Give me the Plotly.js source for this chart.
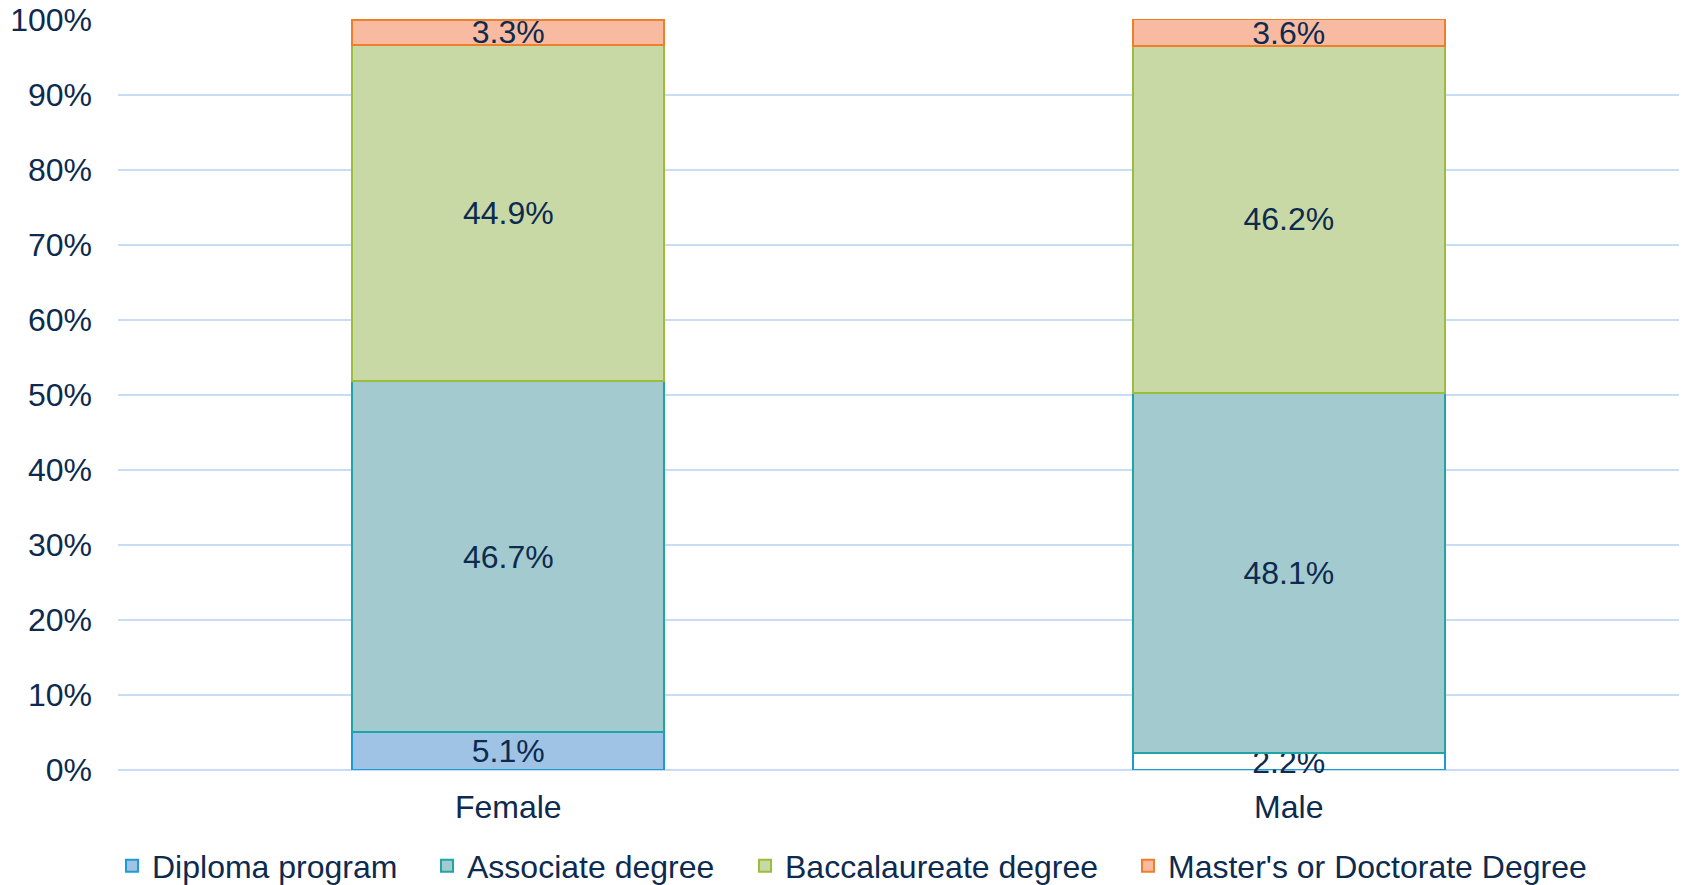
<!DOCTYPE html>
<html>
<head>
<meta charset="utf-8">
<script src="https://cdn.plot.ly/plotly-3.0.1.min.js"></script>
<style>html,body{margin:0;padding:0;background:#fff;}#chart{width:1682px;height:885px;}</style>
</head>
<body>
<div id="chart"></div>
<script>
const categories = ['Female', 'Male'];
const seriesNames = ['Diploma program', 'Associate degree', 'Baccalaureate degree', "Master's or Doctorate Degree"];
const diploma = [5.1, 2.2];
const associate = [46.7, 48.1];
const baccalaureate = [44.9, 46.2];
const masters = [3.3, 3.6];
const yTicks = [0, 10, 20, 30, 40, 50, 60, 70, 80, 90, 100];
const yTickLabels = ['0%', '10%', '20%', '30%', '40%', '50%', '60%', '70%', '80%', '90%', '100%'];

const textColor = '#0D2A4F';
const font = {family: 'Liberation Sans, Arial, sans-serif', size: 32, color: textColor};

const fills = [['#9FC3E5', '#FFFFFF'], '#A3CACE', '#C8D9A6', '#F8BBA1'];
const lines = ['#1E9BD7', '#1FA5A8', '#9CBD3C', '#F07F2A'];
const values = [diploma, associate, baccalaureate, masters];
const legendIds = ['legend', 'legend2', 'legend3', 'legend4'];
const legendX = [112, 427, 745, 1128];

const traces = values.map((v, i) => ({
  type: 'bar',
  name: seriesNames[i],
  x: categories,
  y: v,
  text: v.map(d => d.toFixed(1) + '%'),
  textposition: 'inside',
  insidetextanchor: 'middle',
  constraintext: 'none',
  cliponaxis: false,
  textfont: font,
  marker: {color: fills[i], line: {color: lines[i], width: 2}},
  legend: legendIds[i],
  hoverinfo: 'skip'
}));

const layout = {
  width: 1682, height: 885,
  paper_bgcolor: '#fff', plot_bgcolor: '#fff',
  barmode: 'stack',
  bargap: 0.6,
  margin: {l: 118, r: 3, t: 19, b: 115},
  font: font,
  xaxis: {
    type: 'category',
    showgrid: false, showline: false, zeroline: false,
    ticks: '', tickfont: font, ticklabelstandoff: 15
  },
  yaxis: {
    range: [0, 100.1], tickmode: 'array', tickvals: yTicks, ticktext: yTickLabels,
    showgrid: true, gridcolor: '#C9DCF5', gridwidth: 2,
    zeroline: true, zerolinecolor: '#C9DCF5', zerolinewidth: 2,
    showline: false, ticks: '', tickfont: font, ticklabelstandoff: 25
  },
  showlegend: true
};
legendIds.forEach((id, i) => {
  layout[id] = {
    orientation: 'h', xref: 'container', yref: 'container',
    x: legendX[i] / 1682, xanchor: 'left',
    y: 1 - 866 / 885, yanchor: 'middle',
    font: font, bgcolor: 'rgba(0,0,0,0)', borderwidth: 0
  };
});

Plotly.newPlot('chart', traces, layout, {displayModeBar: false, staticPlot: true});
</script>
</body>
</html>
